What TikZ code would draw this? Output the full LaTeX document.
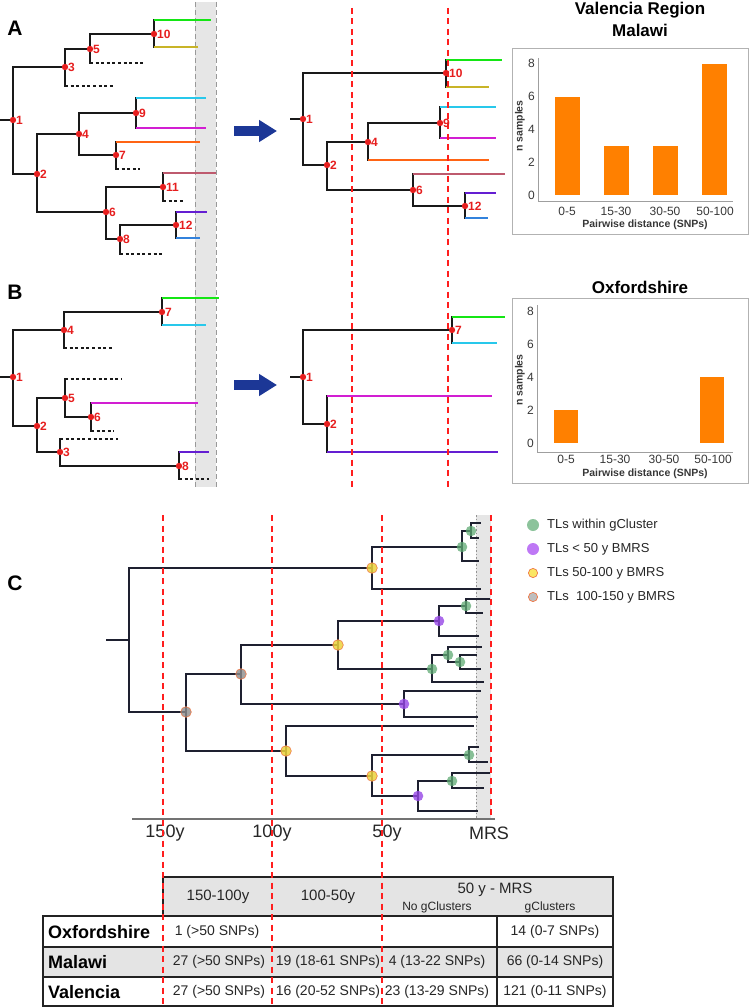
\documentclass[tikz,border=0pt]{standalone}
\usepackage{fontspec}
\setmainfont{Liberation Sans}
\usetikzlibrary{arrows.meta}
\definecolor{treeblack}{RGB}{25,25,25}
\definecolor{lgreen}{RGB}{20,230,20}
\definecolor{lolive}{RGB}{200,180,40}
\definecolor{lcyan}{RGB}{40,200,235}
\definecolor{lmag}{RGB}{210,30,210}
\definecolor{lorange}{RGB}{255,100,20}
\definecolor{lmauve}{RGB}{190,90,110}
\definecolor{lpurp}{RGB}{100,30,210}
\definecolor{lblue}{RGB}{50,130,220}
\definecolor{nodered}{RGB}{230,30,30}
\definecolor{dashred}{RGB}{255,30,30}
\definecolor{arrowblue}{RGB}{28,55,150}
\definecolor{bandgray}{RGB}{230,230,230}
\definecolor{barorange}{RGB}{255,128,0}
\definecolor{ctree}{RGB}{30,32,48}
\definecolor{dgreen}{RGB}{95,170,115}
\definecolor{dpurp}{RGB}{150,70,230}
\definecolor{dyellow}{RGB}{235,210,60}
\definecolor{dgray}{RGB}{140,140,140}
\definecolor{outorange}{RGB}{240,120,70}
\definecolor{tblgray}{RGB}{228,228,228}
\definecolor{tblline}{RGB}{35,35,35}
\definecolor{ticktext}{RGB}{55,55,55}
\newcommand\fsz[1]{\fontsize{#1}{#1}\selectfont}
\newcommand\br[3][treeblack]{\draw[tl] (#2) -- (#2 |- #3); \draw[tl,line cap=butt,#1] (#2 |- #3) -- (#3);}
\newcommand\cb[2]{\draw[ctl] (#1) |- (#2);}
\tikzset{
  tl/.style={line width=1.8pt, draw=treeblack, line cap=rect},
  dsh/.style={treeblack, dash pattern=on 3pt off 2.6pt},
  nlab/.style={anchor=west, xshift=2.2pt, inner sep=0.8pt, text=nodered, font=\bfseries\fsz{12}},
  rdash/.style={draw=dashred, line width=1.4pt, dash pattern=on 6pt off 4.5pt},
  bandline/.style={draw=gray!80, line width=1pt, dash pattern=on 5pt off 3pt},
  bigarrow/.style={draw=arrowblue, line width=10pt, -{Triangle[length=18pt,width=21pt]}},
  panel/.style={font=\bfseries\fsz{21}, inner sep=0pt},
  ctitle/.style={font=\bfseries\fsz{17}, inner sep=0pt},
  frame/.style={draw=gray!60, line width=1pt},
  axisl/.style={draw=gray!75, line width=1pt},
  tick/.style={anchor=east, font=\fsz{12}, text=ticktext, inner sep=1pt},
  cat/.style={font=\fsz{12}, text=ticktext, inner sep=0pt},
  xlab/.style={font=\bfseries\fsz{10.5}, text=ticktext, inner sep=0pt},
  ylab/.style={font=\bfseries\fsz{10.5}, text=ticktext, inner sep=0pt, rotate=90},
  ctl/.style={line width=2.2pt, draw=ctree, line cap=rect},
  gdot/.style={fill=dgreen, fill opacity=0.75},
  pdot/.style={fill=dpurp, fill opacity=0.8},
  ydot/.style={fill=dyellow, fill opacity=0.85, draw=outorange, line width=0.6pt},
  xdot/.style={fill=dgray, fill opacity=0.8, draw=outorange, line width=0.6pt},
  legt/.style={anchor=west, font=\fsz{13}, inner sep=0pt, text=black!85},
  axlab/.style={font=\fsz{18}, inner sep=0pt, text=black!85},
  tline/.style={draw=tblline, line width=1.5pt},
  hdr/.style={font=\fsz{15}, inner sep=0pt, text=black!85},
  hdrs/.style={font=\fsz{12}, inner sep=0pt, text=black!85},
  rowl/.style={anchor=west, font=\bfseries\fsz{18}, inner sep=0pt},
  cell/.style={font=\fsz{14}, inner sep=0pt, text=black!85}
}
\begin{document}
\begin{tikzpicture}[x=1pt,y=-1pt]
\useasboundingbox (0,0) rectangle (751,1008);

% ---------------- gray band A/B ----------------
\fill[bandgray] (195,2) rectangle (216,487);
\coordinate (bandTL) at (195,2); \coordinate (bandBL) at (195,487);
\coordinate (bandTR) at (216,2); \coordinate (bandBR) at (216,487);
\draw[bandline] (bandTL) -- (bandBL);
\draw[bandline] (bandTR) -- (bandBR);

\node[panel] (labA) at (15,28) {A};
\node[panel] (labB) at (15,292) {B};
\node[panel] (labC) at (15,583) {C};

% ---------------- Panel A left tree ----------------
\coordinate (a-r) at (0,120);
\coordinate (a1) at (13,120);
\coordinate (a3) at (65,67);
\coordinate (a5) at (90,49);
\coordinate (a10) at (154,34);
\coordinate (a10g) at (211,20);
\coordinate (a10o) at (198,47);
\coordinate (a5d) at (143,63);
\coordinate (a3d) at (115,86);
\coordinate (a2) at (37,174);
\coordinate (a4) at (79,134);
\coordinate (a9) at (136,113);
\coordinate (a9c) at (206,98);
\coordinate (a9m) at (206,128);
\coordinate (a7) at (116,155);
\coordinate (a7o) at (200,142);
\coordinate (a7d) at (140,169);
\coordinate (a6) at (106,212);
\coordinate (a11) at (163,187);
\coordinate (a11m) at (216,173);
\coordinate (a11d) at (185,201);
\coordinate (a8) at (120,239);
\coordinate (a12) at (176,225);
\coordinate (a12p) at (207,212);
\coordinate (a12b) at (200,238);
\coordinate (a8d) at (162,254);
\draw[tl] (a-r) -- (a1);
\br{a1}{a3} \br{a3}{a5} \br{a5}{a10} \br[lgreen]{a10}{a10g} \br[lolive]{a10}{a10o}
\br[dsh]{a5}{a5d} \br[dsh]{a3}{a3d}
\br{a1}{a2} \br{a2}{a4} \br{a4}{a9} \br[lcyan]{a9}{a9c} \br[lmag]{a9}{a9m}
\br{a4}{a7} \br[lorange]{a7}{a7o} \br[dsh]{a7}{a7d}
\br{a2}{a6} \br{a6}{a11} \br[lmauve]{a11}{a11m} \br[dsh]{a11}{a11d}
\br{a6}{a8} \br{a8}{a12} \br[lpurp]{a12}{a12p} \br[lblue]{a12}{a12b} \br[dsh]{a8}{a8d}

% ---------------- Panel A middle tree ----------------
\coordinate (m-r) at (291,119);
\coordinate (m1) at (303,119);
\coordinate (m10) at (446,73);
\coordinate (m10g) at (502,60);
\coordinate (m10o) at (489,87);
\coordinate (m2) at (327,165);
\coordinate (m4) at (368,142);
\coordinate (m9) at (440,123);
\coordinate (m9c) at (496,107);
\coordinate (m9m) at (496,138);
\coordinate (m4o) at (489,160);
\coordinate (m6) at (413,190);
\coordinate (m6m) at (505,174);
\coordinate (m12) at (465,206);
\coordinate (m12p) at (496,193);
\coordinate (m12b) at (488,218);
\draw[tl] (m-r) -- (m1);
\br{m1}{m10} \br[lgreen]{m10}{m10g} \br[lolive]{m10}{m10o}
\br{m1}{m2} \br{m2}{m4} \br{m4}{m9} \br[lcyan]{m9}{m9c} \br[lmag]{m9}{m9m} \br[lorange]{m4}{m4o}
\br{m2}{m6} \br[lmauve]{m6}{m6m} \br{m6}{m12} \br[lpurp]{m12}{m12p} \br[lblue]{m12}{m12b}

% ---------------- Panel B left tree ----------------
\coordinate (b-r) at (0,377);
\coordinate (b1) at (13,377);
\coordinate (b4) at (64,330);
\coordinate (b7) at (162,312);
\coordinate (b7g) at (219,298);
\coordinate (b7c) at (206,325);
\coordinate (b4d) at (114,348);
\coordinate (b2) at (37,426);
\coordinate (b5) at (65,398);
\coordinate (b5d) at (122,379);
\coordinate (b6) at (91,417);
\coordinate (b6m) at (198,403);
\coordinate (b6d) at (114,431);
\coordinate (b3) at (60,452);
\coordinate (b3d) at (118,439);
\coordinate (b8) at (179,466);
\coordinate (b8p) at (209,452);
\coordinate (b8d) at (209,479);
\draw[tl] (b-r) -- (b1);
\br{b1}{b4} \br{b4}{b7} \br[lgreen]{b7}{b7g} \br[lcyan]{b7}{b7c} \br[dsh]{b4}{b4d}
\br{b1}{b2} \br{b2}{b5} \br[dsh]{b5}{b5d} \br{b5}{b6} \br[lmag]{b6}{b6m} \br[dsh]{b6}{b6d}
\br{b2}{b3} \br[dsh]{b3}{b3d} \br{b3}{b8} \br[lpurp]{b8}{b8p} \br[dsh]{b8}{b8d}

% ---------------- Panel B middle tree ----------------
\coordinate (q-r) at (291,377);
\coordinate (q1) at (303,377);
\coordinate (q7) at (452,330);
\coordinate (q7g) at (505,317);
\coordinate (q7c) at (497,343);
\coordinate (q2) at (327,424);
\coordinate (q2m) at (492,396);
\coordinate (q2p) at (498,452);
\draw[tl] (q-r) -- (q1);
\br{q1}{q7} \br[lgreen]{q7}{q7g} \br[lcyan]{q7}{q7c}
\br{q1}{q2} \br[lmag]{q2}{q2m} \br[lpurp]{q2}{q2p}

% red dashed lines A/B
\coordinate (rdA1) at (352,8); \coordinate (rdB1) at (352,490);
\coordinate (rdA2) at (448,8); \coordinate (rdB2) at (448,490);
\draw[rdash] (rdA1) -- (rdB1);
\draw[rdash] (rdA2) -- (rdB2);

% node dots and labels
\foreach \n/\t in {a1/1,a2/2,a3/3,a4/4,a5/5,a6/6,a7/7,a8/8,a9/9,a10/10,a11/11,a12/12,
  m1/1,m2/2,m4/4,m6/6,m9/9,m10/10,m12/12,
  b1/1,b2/2,b3/3,b4/4,b5/5,b6/6,b7/7,b8/8,
  q1/1,q2/2,q7/7}{
  \fill[nodered] (\n) circle (3.2);
  \node[nlab] (\n-lab) at (\n) {\t};
}

% arrows
\coordinate (arA1) at (234,131); \coordinate (arA2) at (277,131);
\coordinate (arB1) at (234,385); \coordinate (arB2) at (277,385);
\draw[bigarrow] (arA1) -- (arA2);
\draw[bigarrow] (arB1) -- (arB2);

% ---------------- Bar chart A ----------------
\node[ctitle] (tA1) at (640,10) {Valencia Region};
\node[ctitle] (tA2) at (640,30) {Malawi};
\draw[frame] (512,49) rectangle (748,235);
\draw[axisl] (538,58) -- (538,202) -- (733,202);
\fill[barorange] (555,195) rectangle (580,96.6);
\fill[barorange] (604,195) rectangle (629,145.8);
\fill[barorange] (653,195) rectangle (678,145.8);
\fill[barorange] (702,195) rectangle (727,63.8);
\foreach \v/\yy in {0/195,2/162.2,4/129.4,6/96.6,8/63.8}{
  \node[tick] (tkA\v) at (536,\yy) {\v};
}
\node[cat] (cA1) at (567,211) {0-5};
\node[cat] (cA2) at (616,211) {15-30};
\node[cat] (cA3) at (665,211) {30-50};
\node[cat] (cA4) at (715,211) {50-100};
\node[xlab] (xA) at (645,225) {Pairwise distance (SNPs)};
\node[ylab] (yA) at (520,126) {n samples};

% ---------------- Bar chart B ----------------
\node[ctitle] (tB1) at (640,287) {Oxfordshire};
\draw[frame] (512,298) rectangle (748,483);
\draw[axisl] (537,305) -- (537,452) -- (733,452);
\fill[barorange] (554,443) rectangle (578,410.2);
\fill[barorange] (700,443) rectangle (724,377.4);
\foreach \v/\yy in {0/443,2/410.2,4/377.4,6/344.6,8/311.8}{
  \node[tick] (tkB\v) at (535,\yy) {\v};
}
\node[cat] (cB1) at (566,459) {0-5};
\node[cat] (cB2) at (615,459) {15-30};
\node[cat] (cB3) at (664,459) {30-50};
\node[cat] (cB4) at (713,459) {50-100};
\node[xlab] (xB) at (645,474) {Pairwise distance (SNPs)};
\node[ylab] (yB) at (520,380) {n samples};

% ---------------- Panel C ----------------
\fill[bandgray] (476,515) rectangle (491,819);
\coordinate (dotT) at (476,515); \coordinate (dotB) at (476,819);
\draw[draw=gray!85, line width=1pt, dash pattern=on 1.5pt off 2pt] (dotT) -- (dotB);

\coordinate (cR0) at (107,640);
\coordinate (cR) at (129,640);
\coordinate (cY1) at (372,568);
\coordinate (cG1) at (462,547);
\coordinate (cG2) at (471,531);
\coordinate (cL1) at (480,523);
\coordinate (cL2) at (478,538);
\coordinate (cL3) at (478,561);
\coordinate (cL4) at (480,589);
\coordinate (cX1) at (186,712);
\coordinate (cX2) at (241,674);
\coordinate (cY2) at (338,645);
\coordinate (cP1) at (439,621);
\coordinate (cG3) at (466,606);
\coordinate (cL5) at (489,599);
\coordinate (cL6) at (482,613);
\coordinate (cL7) at (478,636);
\coordinate (cG4) at (432,669);
\coordinate (cG5) at (448,655);
\coordinate (cL8) at (481,647);
\coordinate (cG6) at (460,662);
\coordinate (cL9) at (476,655);
\coordinate (cL10) at (480,669);
\coordinate (cL11) at (483,682);
\coordinate (cP2) at (404,704);
\coordinate (cL12) at (480,691);
\coordinate (cL13) at (477,717);
\coordinate (cY3) at (286,751);
\coordinate (cL14) at (473,726);
\coordinate (cY4) at (372,776);
\coordinate (cG7) at (469,755);
\coordinate (cL15) at (478,747);
\coordinate (cL16) at (487,762);
\coordinate (cP3) at (418,796);
\coordinate (cG8) at (452,781);
\coordinate (cL17) at (489,773);
\coordinate (cL18) at (483,788);
\coordinate (cL19) at (477,811);

\draw[ctl] (cR0) -- (cR);
\cb{cR}{cY1} \cb{cY1}{cG1} \cb{cG1}{cG2} \cb{cG2}{cL1} \cb{cG2}{cL2} \cb{cG1}{cL3} \cb{cY1}{cL4}
\cb{cR}{cX1} \cb{cX1}{cX2} \cb{cX2}{cY2} \cb{cY2}{cP1} \cb{cP1}{cG3} \cb{cG3}{cL5} \cb{cG3}{cL6} \cb{cP1}{cL7}
\cb{cY2}{cG4} \cb{cG4}{cG5} \cb{cG5}{cL8} \cb{cG5}{cG6} \cb{cG6}{cL9} \cb{cG6}{cL10} \cb{cG4}{cL11}
\cb{cX2}{cP2} \cb{cP2}{cL12} \cb{cP2}{cL13}
\cb{cX1}{cY3} \cb{cY3}{cL14} \cb{cY3}{cY4} \cb{cY4}{cG7} \cb{cG7}{cL15} \cb{cG7}{cL16}
\cb{cY4}{cP3} \cb{cP3}{cG8} \cb{cG8}{cL17} \cb{cG8}{cL18} \cb{cP3}{cL19}

% red dashed lines C
\coordinate (rc1t) at (163,515); \coordinate (rc1b) at (163,1008);
\coordinate (rc2t) at (272,515); \coordinate (rc2b) at (272,1008);
\coordinate (rc3t) at (382,515); \coordinate (rc3b) at (382,1008);
\coordinate (rc4t) at (491,515); \coordinate (rc4b) at (491,819);

% axis
\coordinate (axL) at (132,819); \coordinate (axR) at (495,819);
\draw[draw=gray!90!black, line width=1.2pt] (axL) -- (axR);
\node[axlab] (ax150) at (165,833) {150y};
\node[axlab] (ax100) at (272,833) {100y};
\node[axlab] (ax50) at (387,833) {50y};
\node[axlab] (axM) at (489,833) {MRS};

% dots C
\foreach \n in {cG1,cG2,cG3,cG4,cG5,cG6,cG7,cG8} \fill[gdot] (\n) circle (5.3);
\foreach \n in {cP1,cP2,cP3} \fill[pdot] (\n) circle (5.3);
\foreach \n in {cY1,cY2,cY3,cY4} \filldraw[ydot] (\n) circle (5.3);
\foreach \n in {cX1,cX2} \filldraw[xdot] (\n) circle (5.3);

% legend
\coordinate (lg1) at (533,525); \coordinate (lg2) at (533,549);
\coordinate (lg3) at (533,573); \coordinate (lg4) at (533,597);
\fill[fill={rgb,255:red,140;green,195;blue,155}] (lg1) circle (6);
\fill[fill={rgb,255:red,190;green,120;blue,245}] (lg2) circle (6);
\filldraw[fill={rgb,255:red,250;green,230;blue,100}, draw=outorange, line width=0.7pt] (lg3) circle (4.6);
\filldraw[fill={rgb,255:red,190;green,190;blue,190}, draw=outorange, line width=0.7pt] (lg4) circle (4.6);
\node[legt] (lt1) at (547,525) {TLs within gCluster};
\node[legt] (lt2) at (547,549) {TLs < 50 y BMRS};
\node[legt] (lt3) at (547,573) {TLs 50-100 y BMRS};
\node[legt] (lt4) at (547,597) {TLs\ \ 100-150 y BMRS};

% ---------------- Table ----------------
\fill[tblgray] (163,877) rectangle (613,916);
\fill[tblgray] (43,947) rectangle (613,977);
\draw[tline] (163,877) rectangle (613,916);
\draw[tline] (43,916) rectangle (613,1006);
\coordinate (tr1L) at (43,947); \coordinate (tr1R) at (613,947);
\coordinate (tr2L) at (43,977); \coordinate (tr2R) at (613,977);
\coordinate (tvT) at (497,916); \coordinate (tvB) at (497,1006);
\draw[tline] (tr1L) -- (tr1R);
\draw[tline] (tr2L) -- (tr2R);
\draw[tline] (tvT) -- (tvB);

\node[hdr] (h1) at (218,897) {150-100y};
\node[hdr] (h2) at (328,897) {100-50y};
\node[hdr] (h3) at (495,890) {50 y - MRS};
\node[hdrs] (h3a) at (437,907) {No gClusters};
\node[hdrs] (h3b) at (550,907) {gClusters};

\node[rowl] (rO) at (48,932) {Oxfordshire};
\node[rowl] (rM) at (48,962) {Malawi};
\node[rowl] (rV) at (48,992) {Valencia};

\node[cell] (o1) at (217,932) {1 (>50 SNPs)};
\node[cell] (o4) at (555,932) {14 (0-7 SNPs)};
\node[cell] (m1c) at (219,962) {27 (>50 SNPs)};
\node[cell] (m2c) at (328,962) {19 (18-61 SNPs)};
\node[cell] (m3c) at (437,962) {4 (13-22 SNPs)};
\node[cell] (m4c) at (555,962) {66 (0-14 SNPs)};
\node[cell] (v1c) at (219,992) {27 (>50 SNPs)};
\node[cell] (v2c) at (328,992) {16 (20-52 SNPs)};
\node[cell] (v3c) at (437,992) {23 (13-29 SNPs)};
\node[cell] (v4c) at (555,992) {121 (0-11 SNPs)};

\draw[rdash] (rc1t) -- (rc1b);
\draw[rdash] (rc2t) -- (rc2b);
\draw[rdash] (rc3t) -- (rc3b);
\draw[rdash] (rc4t) -- (rc4b);
\end{tikzpicture}
\end{document}
